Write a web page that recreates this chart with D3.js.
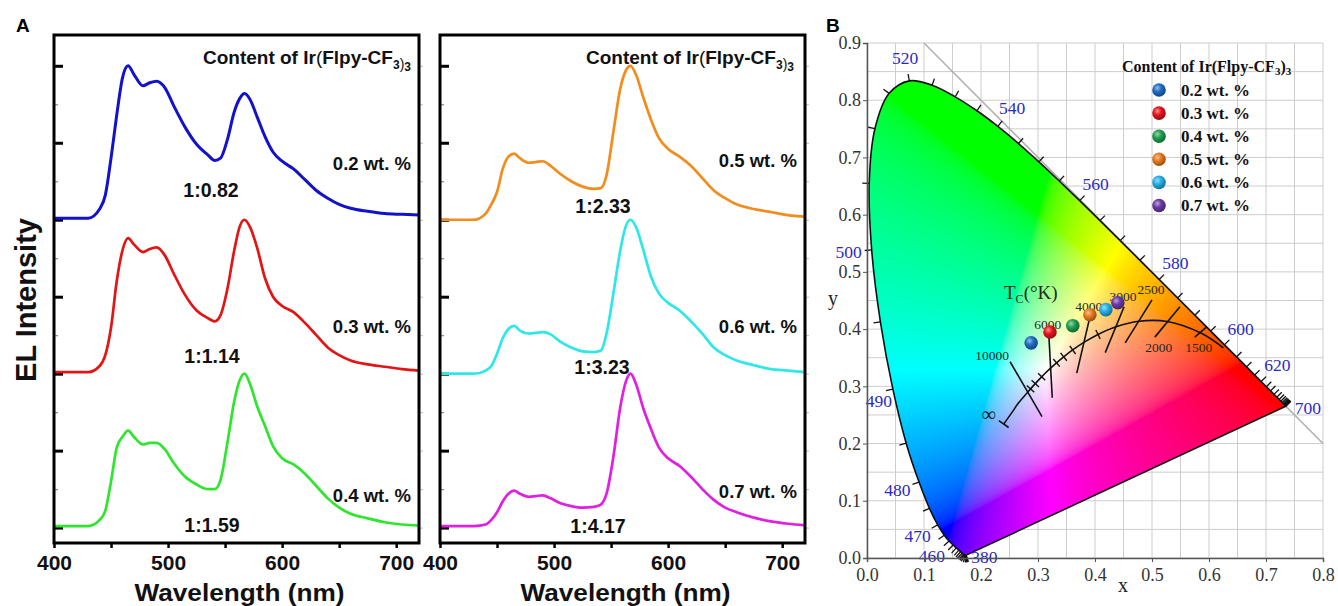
<!DOCTYPE html>
<html><head><meta charset="utf-8">
<script src="https://cdn.jsdelivr.net/npm/d3@7"></script>
<style>body{margin:0;background:#fff}svg{display:block}</style>
</head><body>
<svg id="c" width="1338" height="606"></svg>
<script>
// ---------- Panel A data ----------
const wavelengths = [400,430,440,445,450,455,460,465,470,478,484,490,497,505,515,525,535,541,546,552,558,563,567,572,578,585,592,600,610,620,630,640,650,660,675,690,705,720];
const el02 = [0.01,0.01,0.07,0.16,0.40,0.68,0.92,1.00,0.945,0.87,0.89,0.90,0.86,0.74,0.60,0.49,0.42,0.385,0.40,0.52,0.70,0.79,0.82,0.78,0.67,0.54,0.44,0.38,0.33,0.26,0.19,0.14,0.10,0.075,0.055,0.04,0.035,0.03];
const el03 = [0.01,0.01,0.05,0.12,0.30,0.60,0.80,0.88,0.84,0.79,0.81,0.82,0.77,0.65,0.51,0.41,0.36,0.34,0.38,0.55,0.80,0.96,1.00,0.95,0.82,0.62,0.50,0.44,0.40,0.33,0.25,0.17,0.12,0.085,0.06,0.045,0.03,0.02];
const el04 = [0.01,0.01,0.05,0.11,0.30,0.52,0.59,0.63,0.59,0.54,0.55,0.55,0.51,0.42,0.33,0.28,0.25,0.25,0.31,0.55,0.82,0.96,1.00,0.93,0.79,0.66,0.53,0.45,0.41,0.35,0.27,0.19,0.13,0.09,0.06,0.035,0.02,0.013];
const el05 = [0.0,0.0,0.04,0.10,0.18,0.33,0.41,0.43,0.40,0.37,0.375,0.38,0.35,0.30,0.25,0.215,0.20,0.205,0.29,0.57,0.85,0.97,1.00,0.94,0.80,0.65,0.53,0.46,0.41,0.35,0.27,0.19,0.14,0.10,0.07,0.05,0.03,0.02];
const el06 = [0.0,0.0,0.02,0.05,0.13,0.23,0.29,0.31,0.28,0.26,0.265,0.27,0.255,0.21,0.17,0.145,0.14,0.15,0.26,0.52,0.80,0.96,1.00,0.95,0.81,0.63,0.52,0.46,0.41,0.34,0.26,0.17,0.12,0.085,0.055,0.03,0.02,0.01];
const el07 = [0.01,0.01,0.02,0.05,0.10,0.17,0.22,0.24,0.22,0.20,0.205,0.21,0.19,0.16,0.14,0.13,0.135,0.15,0.22,0.46,0.78,0.95,1.00,0.93,0.78,0.64,0.52,0.45,0.40,0.33,0.25,0.18,0.13,0.10,0.065,0.04,0.025,0.015];
const contentLabels = ["0.2 wt. %","0.3 wt. %","0.4 wt. %","0.5 wt. %","0.6 wt. %","0.7 wt. %"];
const ratioLabels = ["1:0.82","1:1.14","1:1.59","1:2.33","1:3.23","1:4.17"];
const stackOffsets = [2,1,0,2,1,0];
const seriesPanel = [0,0,0,1,1,1];
const elSeries = [el02,el03,el04,el05,el06,el07];
const xTicksA = [400,500,600,700];

// ---------- Panel B data ----------
const locusWl = [380,385,390,395,400,405,410,415,420,425,430,435,440,445,450,455,460,465,470,475,480,485,490,495,500,505,510,515,520,525,530,535,540,545,550,555,560,565,570,575,580,585,590,595,600,605,610,615,620,625,630,635,640,645,650,655,660,665,670,675,680,685,690,695,700];
const locusX = [0.1741,0.1740,0.1738,0.1736,0.1733,0.1730,0.1726,0.1721,0.1714,0.1703,0.1689,0.1669,0.1644,0.1611,0.1566,0.1510,0.1440,0.1355,0.1241,0.1096,0.0913,0.0687,0.0454,0.0235,0.0082,0.0039,0.0139,0.0389,0.0743,0.1142,0.1547,0.1929,0.2296,0.2658,0.3016,0.3373,0.3731,0.4087,0.4441,0.4788,0.5125,0.5448,0.5752,0.6029,0.6270,0.6482,0.6658,0.6801,0.6915,0.7006,0.7079,0.7140,0.7190,0.7230,0.7260,0.7283,0.7300,0.7311,0.7320,0.7327,0.7334,0.7340,0.7344,0.7346,0.7347];
const locusY = [0.0050,0.0050,0.0049,0.0049,0.0048,0.0048,0.0048,0.0048,0.0051,0.0058,0.0069,0.0086,0.0109,0.0138,0.0177,0.0227,0.0297,0.0399,0.0578,0.0868,0.1327,0.2007,0.2950,0.4127,0.5384,0.6548,0.7502,0.8120,0.8338,0.8262,0.8059,0.7816,0.7543,0.7243,0.6923,0.6589,0.6245,0.5896,0.5547,0.5202,0.4866,0.4544,0.4242,0.3965,0.3725,0.3514,0.3340,0.3197,0.3083,0.2993,0.2920,0.2859,0.2809,0.2770,0.2740,0.2717,0.2700,0.2689,0.2680,0.2673,0.2666,0.2660,0.2656,0.2654,0.2653];
const locusLabelWl = [380,460,470,480,490,500,520,540,560,580,600,620,700];
const planckT = [Infinity,20000,15000,10000,9000,8000,7000,6500,6000,5500,5000,4500,4000,3500,3000,2500,2000,1500,1200];
const planckX = [0.2399,0.2568,0.2637,0.2807,0.2869,0.2952,0.3064,0.3135,0.3221,0.3325,0.3451,0.3608,0.3805,0.4053,0.4369,0.4770,0.5267,0.5857,0.6251];
const planckY = [0.2341,0.2580,0.2683,0.2884,0.2956,0.3048,0.3166,0.3237,0.3318,0.3411,0.3516,0.3636,0.3768,0.3907,0.4041,0.4137,0.4133,0.3931,0.3674];
const smallTickT = [9000,8000,7000,5500,5000,4500,3500];
const isoT = [10000,6000,4000,3000,2500,2000,1500];
const isoX1 = [0.251,0.319,0.391,0.451,0.500,0.549,0.596];
const isoY1 = [0.343,0.390,0.421,0.439,0.451,0.439,0.404];
const isoX2 = [0.307,0.325,0.368,0.418,0.453,0.505,0.575];
const isoY2 = [0.247,0.280,0.323,0.359,0.376,0.386,0.386];
const cieX = [0.288,0.321,0.361,0.391,0.419,0.440];
const cieY = [0.376,0.395,0.406,0.425,0.434,0.446];
const xTicksB = [0,0.1,0.2,0.3,0.4,0.5,0.6,0.7,0.8];
const yTicksB = [0,0.1,0.2,0.3,0.4,0.5,0.6,0.7,0.8,0.9];

// ---------- styles ----------
const lineColors = ["#1212cc","#e31414","#2ee62e","#f28c1c","#2ee8e8","#e020e0"];
const ballColors = ["#1f6dc4","#e8141c","#1fa050","#e87a1e","#22b0e8","#6a3aa8"];
const SANS = "'Liberation Sans', Arial, sans-serif";
const SERIF = "'Liberation Serif', 'Times New Roman', serif";

const svg = d3.select('#c');
const defs = svg.append('defs');

// ================= PANEL A =================
const yA = d3.scaleLinear().domain([-0.1,3.2]).range([543,35]);
const panelsA = [{x0:54,x1:419},{x0:440,x1:805}];

svg.append('text').attr('x',16).attr('y',32).attr('font-family',SANS).attr('font-weight','bold').attr('font-size',19).text('A');

panelsA.forEach((p,pi)=>{
  const x = d3.scaleLinear().domain([400,720]).range([p.x0,p.x1]);
  const g = svg.append('g');
  const yt = d3.range(0,3.01,0.25);
  g.append('g').attr('transform',`translate(${p.x0},0)`)
    .call(d3.axisLeft(yA).tickValues(yt.filter(v=>Math.abs(v*2-Math.round(v*2))<1e-6)).tickSize(-9).tickFormat(''))
    .call(s=>{s.select('.domain').remove(); s.selectAll('line').attr('stroke','#000').attr('stroke-width',3);});
  g.append('g').attr('transform',`translate(${p.x0},0)`)
    .call(d3.axisLeft(yA).tickValues(yt.filter(v=>Math.abs(v*2-Math.round(v*2))>1e-6)).tickSize(-4).tickFormat(''))
    .call(s=>{s.select('.domain').remove(); s.selectAll('line').attr('stroke','#888').attr('stroke-width',1.2);});
  g.append('g').attr('transform',`translate(${p.x1},0)`)
    .call(d3.axisRight(yA).tickValues(d3.range(0,3.01,0.25)).tickSize(4).tickFormat(''))
    .call(s=>{s.select('.domain').remove(); s.selectAll('line').attr('stroke','#bbb').attr('stroke-width',1);});
  g.append('g').attr('transform',`translate(0,543)`)
    .call(d3.axisBottom(x).tickValues(d3.range(400,721,50)).tickSize(5).tickPadding(7).tickFormat(d=>xTicksA.includes(d)?d:''))
    .call(s=>{s.select('.domain').remove(); s.selectAll('line').attr('stroke','#000').attr('stroke-width',2.5);
      s.selectAll('text').attr('font-family',SANS).attr('font-weight','bold').attr('font-size',21).attr('fill','#111');});
  g.append('text').attr('x',(p.x0+p.x1)/2+3).attr('y',601).attr('text-anchor','middle')
    .attr('textLength',210).attr('lengthAdjust','spacingAndGlyphs')
    .attr('font-family',SANS).attr('font-weight','bold').attr('font-size',23).attr('fill','#111').text('Wavelength (nm)');
  const t = g.append('text').attr('x',pi===0?411:794).attr('y',64).attr('text-anchor','end')
    .attr('font-family',SANS).attr('font-weight','bold').attr('font-size',19).attr('fill','#111');
  t.append('tspan').text('Content of Ir');
  t.append('tspan').attr('font-weight','normal').text('(');
  t.append('tspan').text('Flpy-CF');
  t.append('tspan').attr('font-size',12).attr('dy',5).text('3');
  t.append('tspan').attr('font-size',14).attr('font-weight','normal').text(')');
  t.append('tspan').attr('font-size',12).attr('dy',2).text('3');

  const line = d3.line().x((d,i)=>x(wavelengths[i])).y(d=>d).curve(d3.curveMonotoneX);
  elSeries.forEach((s,si)=>{
    if(seriesPanel[si]!==pi) return;
    const off = stackOffsets[si];
    g.append('path').attr('d',line(s.map(v=>yA(v+off)))).attr('fill','none')
      .attr('stroke',lineColors[si]).attr('stroke-width',si===0?3:2.7).attr('stroke-linejoin','round');
  });
  g.append('rect').attr('x',p.x0).attr('y',35).attr('width',p.x1-p.x0).attr('height',508)
    .attr('fill','none').attr('stroke','#000').attr('stroke-width',3);
});

const contentBase = [170,333,502,167,333,498];
const ratioBase = [197,363,532,213,374,533];
const ratioCx = [211,212,212,603,602,598];
elSeries.forEach((s,si)=>{
  const p = panelsA[seriesPanel[si]];
  svg.append('text').attr('x',p.x1-8).attr('y',contentBase[si]).attr('text-anchor','end')
    .attr('font-family',SANS).attr('font-weight','bold').attr('font-size',18.5).attr('fill','#111').text(contentLabels[si]);
  svg.append('text').attr('x',ratioCx[si]).attr('y',ratioBase[si]).attr('text-anchor','middle')
    .attr('font-family',SANS).attr('font-weight','bold').attr('font-size',19.5).attr('fill','#111').text(ratioLabels[si]);
});
svg.append('text').attr('transform','translate(36,300) rotate(-90)').attr('text-anchor','middle')
  .attr('font-family',SANS).attr('font-weight','bold').attr('font-size',29).attr('fill','#111').text('EL Intensity');

// ================= PANEL B =================
const xB = d3.scaleLinear().domain([0,0.8]).range([867,1323]);
const yB = d3.scaleLinear().domain([0,0.9]).range([558,43]);
const gB = svg.append('g');
svg.append('text').attr('x',826).attr('y',32).attr('font-family',SANS).attr('font-weight','bold').attr('font-size',19).text('B');

d3.range(0,0.8001,0.05).forEach(v=>gB.append('line').attr('x1',xB(v)).attr('x2',xB(v)).attr('y1',yB(0)).attr('y2',yB(0.9)).attr('stroke','#cdcdcd').attr('stroke-width',1));
d3.range(0,0.9001,0.05).forEach(v=>gB.append('line').attr('x1',xB(0)).attr('x2',xB(0.8)).attr('y1',yB(v)).attr('y2',yB(v)).attr('stroke','#cdcdcd').attr('stroke-width',1));
gB.append('line').attr('x1',xB(0.1)).attr('y1',yB(0.9)).attr('x2',xB(0.8)).attr('y2',yB(0.2)).attr('stroke','#b0b0b0').attr('stroke-width',1.5);

const pxPts = locusWl.map((w,i)=>[xB(locusX[i]),yB(locusY[i])]);
const locusD = d3.line().curve(d3.curveCatmullRom.alpha(0.5))(pxPts) + 'Z';
defs.append('clipPath').attr('id','locClip').append('path').attr('d',locusD);

(function(){
  const px0 = Math.floor(xB(0)), px1 = Math.ceil(xB(0.75)), py0 = Math.floor(yB(0.85)), py1 = Math.ceil(yB(0));
  const W = px1-px0, H = py1-py0;
  const cv = document.createElement('canvas'); cv.width=W; cv.height=H;
  const ctx = cv.getContext('2d'); const img = ctx.createImageData(W,H);
  const gam = v => v<=0.0031308 ? 12.92*v : 1.055*Math.pow(v,1/2.4)-0.055;
  for(let j=0;j<H;j++){
    const cy = Math.max(yB.invert(py0+j+0.5),0.003);
    for(let i=0;i<W;i++){
      const cx = Math.max(xB.invert(px0+i+0.5),0.001);
      const X=cx/cy, Y=1, Z=Math.max(1-cx-cy,0)/cy;
      let r = 3.2406*X-1.5372*Y-0.4986*Z, g=-0.9689*X+1.8758*Y+0.0415*Z, b=0.0557*X-0.2040*Y+1.0570*Z;
      r=Math.max(r,0); g=Math.max(g,0); b=Math.max(b,0);
      const m=Math.max(r,g,b)||1; r/=m; g/=m; b/=m;
      const k=(j*W+i)*4;
      img.data[k]=Math.round(255*gam(r)); img.data[k+1]=Math.round(255*gam(g)); img.data[k+2]=Math.round(255*gam(b)); img.data[k+3]=255;
    }
  }
  ctx.putImageData(img,0,0);
  gB.append('image').attr('x',px0).attr('y',py0).attr('width',W).attr('height',H)
    .attr('preserveAspectRatio','none').attr('href',cv.toDataURL()).attr('clip-path','url(#locClip)');
})();

gB.append('path').attr('d',locusD).attr('fill','none').attr('stroke','#111').attr('stroke-width',1.6).attr('stroke-linejoin','round');

const cen = [xB(0.33),yB(0.33)];
function normalAt(pts,i,ref){
  const a = pts[Math.max(0,i-1)], b = pts[Math.min(pts.length-1,i+1)];
  let tx=b[0]-a[0], ty=b[1]-a[1]; const L=Math.hypot(tx,ty)||1; tx/=L; ty/=L;
  let nx=ty, ny=-tx;
  if((pts[i][0]-ref[0])*nx+(pts[i][1]-ref[1])*ny<0){nx=-nx;ny=-ny;}
  return [nx,ny];
}
pxPts.forEach((p,i)=>{
  const [nx,ny]=normalAt(pxPts,i,cen);
  gB.append('line').attr('x1',p[0]).attr('y1',p[1]).attr('x2',p[0]+nx*7).attr('y2',p[1]+ny*7).attr('stroke','#111').attr('stroke-width',1.3);
});
locusLabelWl.forEach(w=>{
  const i = locusWl.indexOf(w); const p = pxPts[i];
  let lx, ly, anchor='middle';
  if(w===380){lx=p[0]+5; ly=p[1]+2; anchor='start';}
  else if(w===700){lx=p[0]+9; ly=p[1]+2; anchor='start';}
  else if(w===490){lx=p[0]-1; ly=p[1]+12; anchor='end';}
  else {const [nx,ny]=normalAt(pxPts,i,cen); lx=p[0]+nx*23; ly=p[1]+ny*23;}
  gB.append('text').attr('x',lx).attr('y',ly).attr('dy','0.35em').attr('text-anchor',anchor)
    .attr('font-family',SERIF).attr('font-size',17.5).attr('fill','#2a2ac4').text(w);
});

const pPts = planckT.map((t,i)=>[xB(planckX[i]),yB(planckY[i])]);
gB.append('path').attr('d',d3.line().curve(d3.curveCatmullRom)(pPts)).attr('fill','none').attr('stroke','#111').attr('stroke-width',1.6);
(function(){
  const [nx,ny]=normalAt(pPts,0,[0,0]);
  const p=pPts[0];
  gB.append('line').attr('x1',p[0]-nx*6).attr('y1',p[1]-ny*6).attr('x2',p[0]+nx*6).attr('y2',p[1]+ny*6).attr('stroke','#111').attr('stroke-width',1.6);
  gB.append('text').attr('x',p[0]-15).attr('y',p[1]-3).attr('text-anchor','middle').attr('font-family',SERIF).attr('font-size',20).attr('fill','#222').text('∞');
})();
smallTickT.forEach(t=>{
  const i=planckT.indexOf(t); const p=pPts[i]; const [nx,ny]=normalAt(pPts,i,[0,0]);
  gB.append('line').attr('x1',p[0]-nx*5).attr('y1',p[1]-ny*5).attr('x2',p[0]+nx*5).attr('y2',p[1]+ny*5).attr('stroke','#111').attr('stroke-width',1.4);
});
isoT.forEach((t,i)=>{
  const a=[xB(isoX1[i]),yB(isoY1[i])], b=[xB(isoX2[i]),yB(isoY2[i])];
  gB.append('line').attr('x1',a[0]).attr('y1',a[1]).attr('x2',b[0]).attr('y2',b[1]).attr('stroke','#111').attr('stroke-width',1.6);
  let lx,ly,anc='middle';
  if(t>=10000){lx=a[0]-1; ly=a[1]-2; anc='end';}
  else if(t<=2000){lx=b[0]+4; ly=b[1]+15;}
  else {lx=a[0]-1; ly=a[1]-6;}
  gB.append('text').attr('x',lx).attr('y',ly).attr('text-anchor',anc).attr('font-family',SERIF).attr('font-size',13.5).attr('fill','#1d2a1d').text(t);
});
const tc = gB.append('text').attr('x',1004).attr('y',299).attr('font-family',SERIF).attr('font-size',19).attr('fill','#1d2a1d');
tc.append('tspan').text('T');
tc.append('tspan').attr('font-size',12).attr('dy',4).text('C');
tc.append('tspan').attr('dy',-4).text('(°K)');

ballColors.forEach((c,i)=>{
  const gr = defs.append('radialGradient').attr('id','ball'+i).attr('cx','38%').attr('cy','35%').attr('r','65%');
  gr.append('stop').attr('offset','0%').attr('stop-color',d3.interpolateRgb(c,'#fff')(0.55));
  gr.append('stop').attr('offset','45%').attr('stop-color',c);
  gr.append('stop').attr('offset','100%').attr('stop-color',d3.color(c).darker(1.2));
});
cieX.forEach((v,i)=>{
  gB.append('circle').attr('cx',xB(v)).attr('cy',yB(cieY[i])).attr('r',6.8).attr('fill',`url(#ball${i})`);
});

const lg = gB.append('g');
const lt = lg.append('text').attr('x',1122).attr('y',72).attr('font-family',SERIF).attr('font-weight','bold').attr('font-size',16).attr('fill','#111');
lt.append('tspan').text('Content of Ir(Flpy-CF');
lt.append('tspan').attr('font-size',11).attr('dy',3).text('3');
lt.append('tspan').attr('dy',-3).text(')');
lt.append('tspan').attr('font-size',11).attr('dy',3).text('3');
contentLabels.forEach((l,i)=>{
  const cy = 90+i*23.1;
  lg.append('circle').attr('cx',1159).attr('cy',cy).attr('r',6.8).attr('fill',`url(#ball${i})`);
  lg.append('text').attr('x',1181).attr('y',cy+5.5).attr('font-family',SERIF).attr('font-weight','bold').attr('font-size',17).attr('fill','#111').text(l);
});

gB.append('g').attr('transform',`translate(${xB(0)},0)`)
  .call(d3.axisLeft(yB).tickValues(yTicksB).tickFormat(d3.format('.1f')).tickSize(4).tickPadding(2))
  .call(s=>{s.select('.domain').attr('stroke','#555').attr('stroke-width',1.5);
    s.selectAll('line').attr('stroke','#555');
    s.selectAll('text').attr('font-family',SERIF).attr('font-size',18).attr('fill','#333');});
gB.append('g').attr('transform',`translate(0,${yB(0)})`)
  .call(d3.axisBottom(xB).tickValues(xTicksB).tickFormat(d3.format('.1f')).tickSize(4).tickPadding(6))
  .call(s=>{s.select('.domain').attr('stroke','#555').attr('stroke-width',1.5);
    s.selectAll('line').attr('stroke','#555');
    s.selectAll('text').attr('font-family',SERIF).attr('font-size',18).attr('fill','#333');});
gB.append('text').attr('x',833).attr('y',305).attr('text-anchor','middle').attr('font-family',SERIF).attr('font-size',20).attr('fill','#222').text('y');
gB.append('text').attr('x',1123).attr('y',592).attr('text-anchor','middle').attr('font-family',SERIF).attr('font-size',20).attr('fill','#222').text('x');
</script>
</body></html>
